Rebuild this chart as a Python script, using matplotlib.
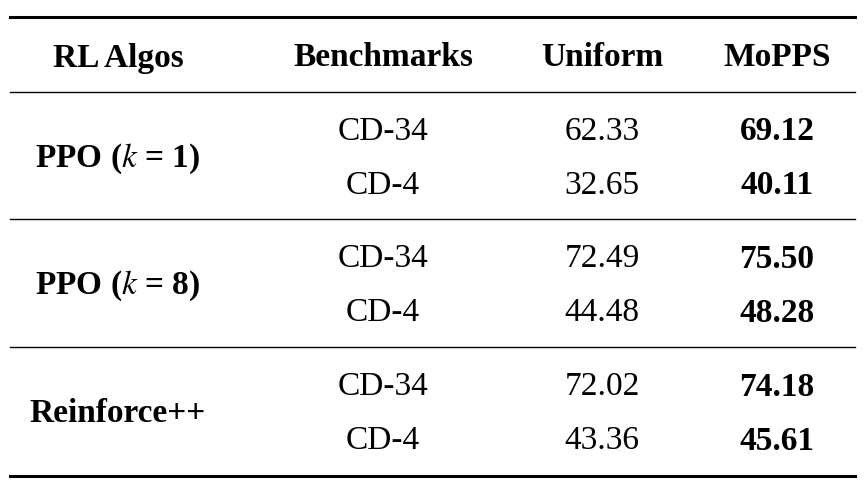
import matplotlib

matplotlib.use("Agg")
import matplotlib.pyplot as plt

plt.rcParams["font.family"] = ["Liberation Serif", "DejaVu Serif"]
plt.rcParams["mathtext.fontset"] = "stix"

headers = ["RL Algos", "Benchmarks", "Uniform", "MoPPS"]
algos = [r"PPO ($k$ = 1)", r"PPO ($k$ = 8)", "Reinforce++"]
benchmarks = ["CD-34", "CD-4"]
uniform = [[62.33, 32.65], [72.49, 44.48], [72.02, 43.36]]
mopps = [[69.12, 40.11], [75.50, 48.28], [74.18, 45.61]]

W, H = 865, 489
fig = plt.figure(figsize=(W / 100, H / 100), dpi=100)
ax = fig.add_axes([0, 0, 1, 1])
ax.set_xlim(0, W)
ax.set_ylim(H, 0)
ax.axis("off")

col_x = [118, 383, 602, 777]
fs = 24

# rules
ax.plot([10, 855], [18, 18], color="black", lw=2.2)
ax.plot([10, 855], [477, 477], color="black", lw=2.2)
for y in (93, 220, 348):
    ax.plot([10, 855], [y, y], color="black", lw=1.0)

for x, h in zip(col_x, headers):
    ax.text(x, 58, h, ha="center", va="center", fontsize=fs, fontweight="bold")

group_top = [93, 220, 348]
for g, name in enumerate(algos):
    y0 = group_top[g]
    ys = [y0 + 39, y0 + 93]
    ax.text(col_x[0], (ys[0] + ys[1]) / 2, name, ha="center", va="center",
            fontsize=fs, fontweight="bold")
    for i, b in enumerate(benchmarks):
        ax.text(col_x[1], ys[i], b, ha="center", va="center", fontsize=fs)
        ax.text(col_x[2], ys[i], f"{uniform[g][i]:.2f}", ha="center", va="center", fontsize=fs)
        ax.text(col_x[3], ys[i], f"{mopps[g][i]:.2f}", ha="center", va="center",
                fontsize=fs, fontweight="bold")

fig.savefig("out.png", dpi=100)
